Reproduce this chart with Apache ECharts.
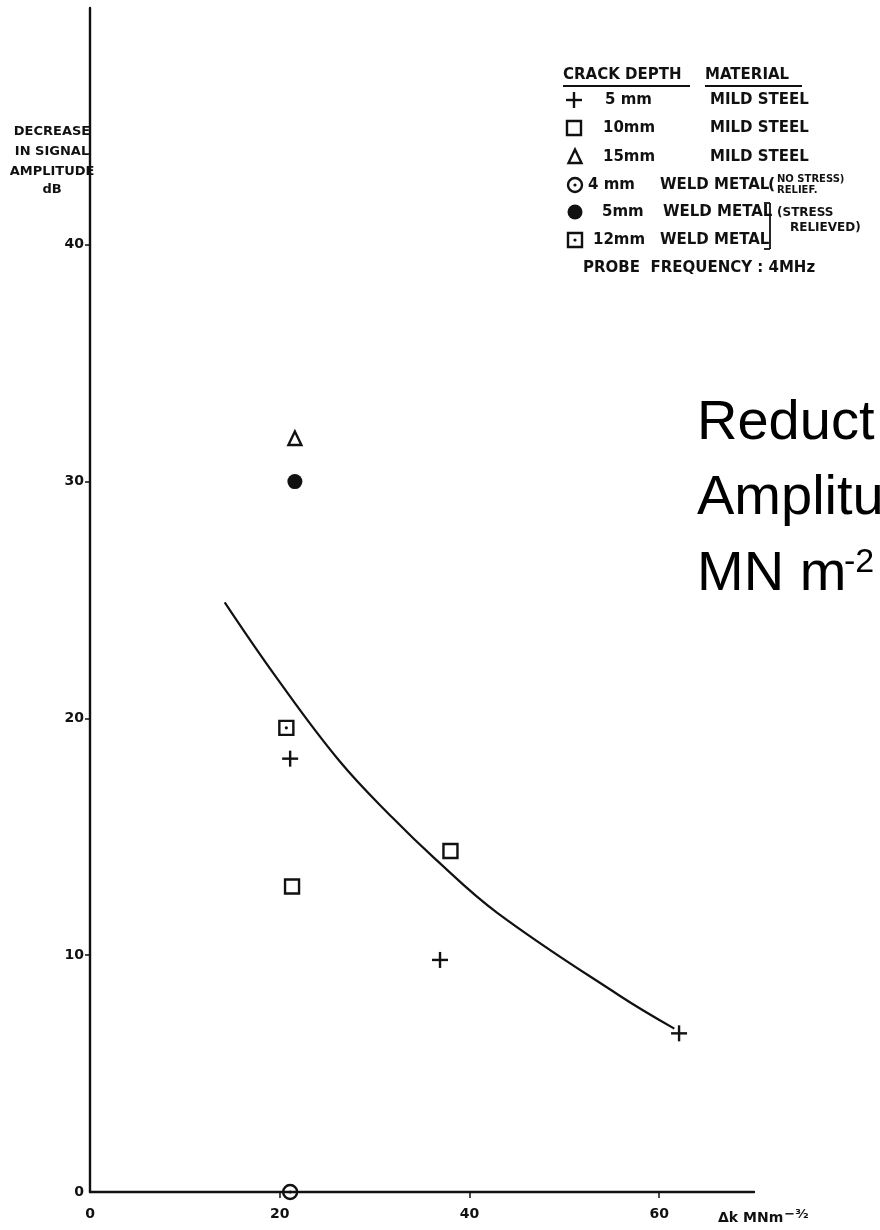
<!DOCTYPE html>
<html><head><meta charset="utf-8">
<script src="https://cdn.jsdelivr.net/npm/echarts@6/dist/echarts.min.js"></script>
<style>html,body{margin:0;padding:0;background:#fff}#c{width:880px;height:1230px}</style>
</head><body><div id="c"></div>
<script>
// ---- data ----
const xTickValues = [0, 20, 40, 60];
const yTickValues = [0, 10, 20, 30, 40];
const plus5mmMild = [[21.1, 18.3], [36.9, 9.8], [62.1, 6.7]];
const square10mmMild = [[21.3, 12.9], [38.0, 14.4]];
const triangle15mmMild = [[21.6, 31.8]];
const circleDot4mmWeld = [[21.1, 0.0]];
const filled5mmWeld = [[21.6, 30.0]];
const dotSquare12mmWeld = [[20.7, 19.6]];
const curveX = [14.2, 19.7, 26.3, 31.9, 36.3, 42.9, 55.8, 61.6];
const curveY = [24.9, 21.7, 18.2, 15.8, 14.1, 11.8, 8.3, 6.9];

const INK = '#111';
const TICKFONT = 'DejaVu Sans';

function shapeEls(kind) {
  const s = {stroke: INK, lineWidth: 2.4, fill: 'none'};
  switch (kind) {
    case 'plus': return [
      {type: 'line', shape: {x1: -8, y1: 0, x2: 8, y2: 0}, style: s},
      {type: 'line', shape: {x1: 0, y1: -8, x2: 0, y2: 8}, style: s}];
    case 'square': return [
      {type: 'rect', shape: {x: -7, y: -7, width: 14, height: 14}, style: s}];
    case 'triangle': return [
      {type: 'polygon', shape: {points: [[0, -7.5], [6.5, 6], [-6.5, 6]]}, style: s}];
    case 'circleDot': return [
      {type: 'circle', shape: {cx: 0, cy: 0, r: 7}, style: s},
      {type: 'circle', shape: {cx: 0, cy: 0, r: 1.6}, style: {fill: INK}}];
    case 'filled': return [
      {type: 'circle', shape: {cx: 0, cy: 0, r: 7.5}, style: {fill: INK}}];
    case 'dotSquare': return [
      {type: 'rect', shape: {x: -7, y: -7, width: 14, height: 14}, style: s},
      {type: 'circle', shape: {cx: 0, cy: 0, r: 1.6}, style: {fill: INK}}];
  }
}

function markerSeries(name, data, kind) {
  return {
    type: 'custom', name: name, data: data, clip: false, z: 5,
    renderItem: function (params, api) {
      const p = api.coord([api.value(0), api.value(1)]);
      return {type: 'group', x: p[0], y: p[1], children: shapeEls(kind)};
    }
  };
}

// ---- legend / annotation graphics ----
const LF = 'bold 15px "DejaVu Sans"';
function txt(t, x, y, font, extra) {
  return Object.assign({type: 'text', x: x, y: y, z: 10,
    style: {text: t, font: font || LF, fill: INK, align: 'left', verticalAlign: 'middle'}}, extra || {});
}
function sym(kind, x, y) { return {type: 'group', x: x, y: y, z: 10, children: shapeEls(kind)}; }
function ln(x1, y1, x2, y2, w) {
  return {type: 'line', z: 10, shape: {x1: x1, y1: y1, x2: x2, y2: y2}, style: {stroke: INK, lineWidth: w || 1.8}};
}

const graphics = [
  // y axis name
  {type: 'text', x: 52, y: 132, style: {text: 'DECREASE', font: 'bold 13px "DejaVu Sans"', fill: INK, align: 'center', verticalAlign: 'middle'}},
  {type: 'text', x: 52, y: 152, style: {text: 'IN SIGNAL', font: 'bold 13px "DejaVu Sans"', fill: INK, align: 'center', verticalAlign: 'middle'}},
  {type: 'text', x: 52, y: 172, style: {text: 'AMPLITUDE', font: 'bold 13px "DejaVu Sans"', fill: INK, align: 'center', verticalAlign: 'middle'}},
  {type: 'text', x: 52, y: 190, style: {text: 'dB', font: 'bold 13px "DejaVu Sans"', fill: INK, align: 'center', verticalAlign: 'middle'}},
  // x axis name
  {type: 'text', x: 718, y: 1218, style: {
    text: '{a|Δk MNm}{s|−³⁄₂}', fill: INK, align: 'left', verticalAlign: 'middle',
    rich: {a: {font: 'bold 14px "DejaVu Sans"', fill: INK}, s: {font: 'bold 13px "DejaVu Sans"', fill: INK, padding: [0, 0, 6, 1]}}}},
  // legend header
  txt('CRACK DEPTH', 563, 75), txt('MATERIAL', 705, 75),
  ln(563, 86, 690, 86), ln(705, 86, 802, 86),
  sym('plus', 574, 100), txt('5 mm', 605, 100), txt('MILD STEEL', 710, 100),
  sym('square', 574, 128), txt('10mm', 603, 128), txt('MILD STEEL', 710, 128),
  sym('triangle', 575, 157), txt('15mm', 603, 157), txt('MILD STEEL', 710, 157),
  sym('circleDot', 575, 185), txt('4 mm', 588, 185), txt('WELD METAL', 660, 185),
  txt('(', 768, 185, 'bold 16px "DejaVu Sans"'),
  txt('NO STRESS)', 777, 179, 'bold 10px "DejaVu Sans"'), txt('RELIEF.', 777, 190, 'bold 10px "DejaVu Sans"'),
  sym('filled', 575, 212), txt('5mm', 602, 212), txt('WELD METAL', 663, 212),
  ln(770, 203, 770, 249), ln(764, 203, 770, 203), ln(764, 249, 770, 249),
  txt('(STRESS', 777, 213, 'bold 12px "DejaVu Sans"'), txt('RELIEVED)', 790, 228, 'bold 12px "DejaVu Sans"'),
  sym('dotSquare', 575, 240), txt('12mm', 593, 240), txt('WELD METAL', 660, 240),
  txt('PROBE  FREQUENCY : 4MHz', 583, 268),
  // big overlay text
  {type: 'text', x: 697, y: 424, z: 20, style: {text: 'Reduct', font: '56px "Liberation Sans"', fill: '#000', align: 'left', verticalAlign: 'middle'}},
  {type: 'text', x: 697, y: 499, z: 20, style: {text: 'Amplitu', font: '56px "Liberation Sans"', fill: '#000', align: 'left', verticalAlign: 'middle'}},
  {type: 'text', x: 697, y: 575, z: 20, style: {text: 'MN m', font: '56px "Liberation Sans"', fill: '#000', align: 'left', verticalAlign: 'middle'}},
  {type: 'text', x: 844, y: 563, z: 20, style: {text: '-2', font: '34px "Liberation Sans"', fill: '#000', align: 'left', verticalAlign: 'middle'}}
];

const chart = echarts.init(document.getElementById('c'), null, {renderer: 'canvas'});
chart.setOption({
  backgroundColor: '#fff',
  animation: false,
  grid: {left: 90, right: 126, top: 8, bottom: 38, containLabel: false},
  xAxis: {
    type: 'value', min: 0, max: 70, interval: 10,
    splitLine: {show: false},
    axisLine: {show: true, onZero: false, lineStyle: {color: INK, width: 2.4}},
    axisTick: {show: true, inside: false, length: 6, customValues: xTickValues.filter(v => v > 0), lineStyle: {color: INK, width: 1.5}},
    axisLabel: {show: true, margin: 15, customValues: xTickValues, color: INK, fontFamily: TICKFONT, fontWeight: 'bold', fontSize: 14, formatter: v => String(v)}
  },
  yAxis: {
    type: 'value', min: 0, max: 50, interval: 10,
    splitLine: {show: false},
    axisLine: {show: true, onZero: false, lineStyle: {color: INK, width: 2.4}},
    axisTick: {show: true, inside: false, length: 5, customValues: yTickValues.filter(v => v > 0), lineStyle: {color: INK, width: 1.5}},
    axisLabel: {show: true, margin: 6, customValues: yTickValues, color: INK, fontFamily: TICKFONT, fontWeight: 'bold', fontSize: 14, formatter: v => String(v)}
  },
  series: [
    {type: 'line', name: 'fit', data: curveX.map((x, i) => [x, curveY[i]]), smooth: 0.4, showSymbol: false,
     lineStyle: {color: INK, width: 2.2}, z: 3},
    markerSeries('5 mm mild steel', plus5mmMild, 'plus'),
    markerSeries('10 mm mild steel', square10mmMild, 'square'),
    markerSeries('15 mm mild steel', triangle15mmMild, 'triangle'),
    markerSeries('4 mm weld metal', circleDot4mmWeld, 'circleDot'),
    markerSeries('5 mm weld metal', filled5mmWeld, 'filled'),
    markerSeries('12 mm weld metal', dotSquare12mmWeld, 'dotSquare')
  ],
  graphic: graphics
});
</script>
</body></html>
